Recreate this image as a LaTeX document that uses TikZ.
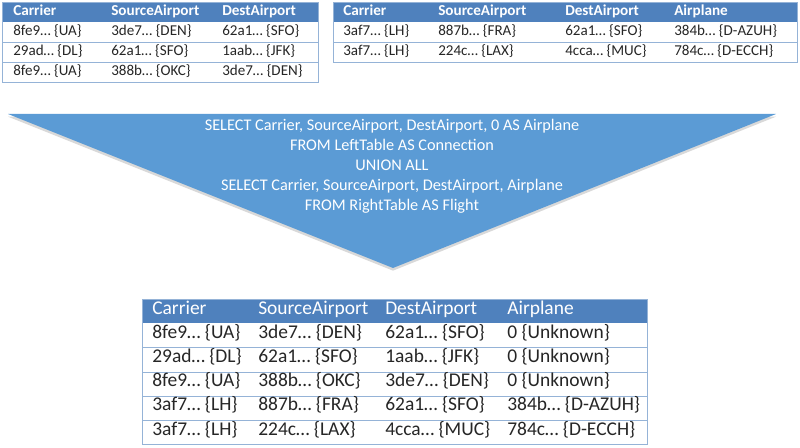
\documentclass[tikz,border=0pt]{standalone}
\usepackage{fontspec}
\setmainfont{Carlito}
\usetikzlibrary{shadows}
\definecolor{hdrblue}{HTML}{4F81BD}
\definecolor{rowline}{HTML}{95B3D7}
\definecolor{funnel}{HTML}{5B9BD5}

\begin{document}
\begin{tikzpicture}[x=0.75pt, y=-0.75pt,
  smallcell/.style={anchor=mid west, inner sep=0pt, font=\fontsize{11.3}{13}\selectfont, text=black!85},
  smallhead/.style={smallcell, text=white, font=\fontsize{11.4}{13}\selectfont\bfseries},
  bigcell/.style={anchor=mid west, inner sep=0pt, font=\fontsize{14.6}{17}\selectfont, text=black!85},
  bighead/.style={bigcell, text=white}]
  \useasboundingbox (0,0) rectangle (800,448);

  % left input table
  \fill[hdrblue] (2,2) rectangle (318,22);
  \foreach \y in {42,62}{ \draw[rowline] (2,\y) -- (318,\y); }
  \draw[rowline] (2,2) rectangle (318,82);
  \foreach \t/\x [count=\c] in {Carrier/13,SourceAirport/111,DestAirport/222}{
    \node[smallhead] (lh-\c) at (\x,12) {\t}; }
  \foreach \a/\b/\d [count=\r] in {8fe9… \{UA\}/3de7… \{DEN\}/62a1… \{SFO\},
                                  29ad… \{DL\}/62a1… \{SFO\}/1aab… \{JFK\},
                                  8fe9… \{UA\}/388b… \{OKC\}/3de7… \{DEN\}}{
    \node[smallcell] (l-\r-1) at (13,12+20*\r) {\a};
    \node[smallcell] (l-\r-2) at (111,12+20*\r) {\b};
    \node[smallcell] (l-\r-3) at (222,12+20*\r) {\d}; }

  % right input table
  \fill[hdrblue] (333,2) rectangle (797,22);
  \draw[rowline] (333,42) -- (797,42);
  \draw[rowline] (333,2) rectangle (797,62);
  \foreach \t/\x [count=\c] in {Carrier/343,SourceAirport/438,DestAirport/565,Airplane/674}{
    \node[smallhead] (rh-\c) at (\x,12) {\t}; }
  \foreach \a/\b/\d/\p [count=\r] in {3af7… \{LH\}/887b… \{FRA\}/62a1… \{SFO\}/384b… \{D-AZUH\},
                                     3af7… \{LH\}/224c… \{LAX\}/4cca… \{MUC\}/784c… \{D-ECCH\}}{
    \node[smallcell] (r-\r-1) at (343,12+20*\r) {\a};
    \node[smallcell] (r-\r-2) at (438,12+20*\r) {\b};
    \node[smallcell] (r-\r-3) at (565,12+20*\r) {\d};
    \node[smallcell] (r-\r-4) at (674,12+20*\r) {\p}; }

  % the union funnel
  \fill[funnel, drop shadow={shadow xshift=0pt, shadow yshift=-2pt, opacity=0.3}]
    (8,114) -- (776,114) -- (393,268) -- cycle;
  \node[align=center, text=white, font=\fontsize{12.2}{15}\selectfont] (union) at (392,166)
    {SELECT Carrier, SourceAirport, DestAirport, 0 AS Airplane\\
     FROM LeftTable AS Connection\\
     UNION ALL\\
     SELECT Carrier, SourceAirport, DestAirport, Airplane\\
     FROM RightTable AS Flight};

  % result table
  \fill[hdrblue] (142,299) rectangle (647,323);
  \foreach \y in {347,372,396,420}{ \draw[rowline] (142,\y) -- (647,\y); }
  \draw[rowline] (142,299) rectangle (647,444);
  \foreach \t/\x [count=\c] in {Carrier/152,SourceAirport/258,DestAirport/385,Airplane/507}{
    \node[bighead] (oh-\c) at (\x,311) {\t}; }
  \foreach \a/\b/\d/\p [count=\r] in {8fe9… \{UA\}/3de7… \{DEN\}/62a1… \{SFO\}/0 \{Unknown\},
                                     29ad… \{DL\}/62a1… \{SFO\}/1aab… \{JFK\}/0 \{Unknown\},
                                     8fe9… \{UA\}/388b… \{OKC\}/3de7… \{DEN\}/0 \{Unknown\},
                                     3af7… \{LH\}/887b… \{FRA\}/62a1… \{SFO\}/384b… \{D-AZUH\},
                                     3af7… \{LH\}/224c… \{LAX\}/4cca… \{MUC\}/784c… \{D-ECCH\}}{
    \node[bigcell] (o-\r-1) at (152,311+24.2*\r) {\a};
    \node[bigcell] (o-\r-2) at (258,311+24.2*\r) {\b};
    \node[bigcell] (o-\r-3) at (385,311+24.2*\r) {\d};
    \node[bigcell] (o-\r-4) at (507,311+24.2*\r) {\p}; }
\end{tikzpicture}
\end{document}
